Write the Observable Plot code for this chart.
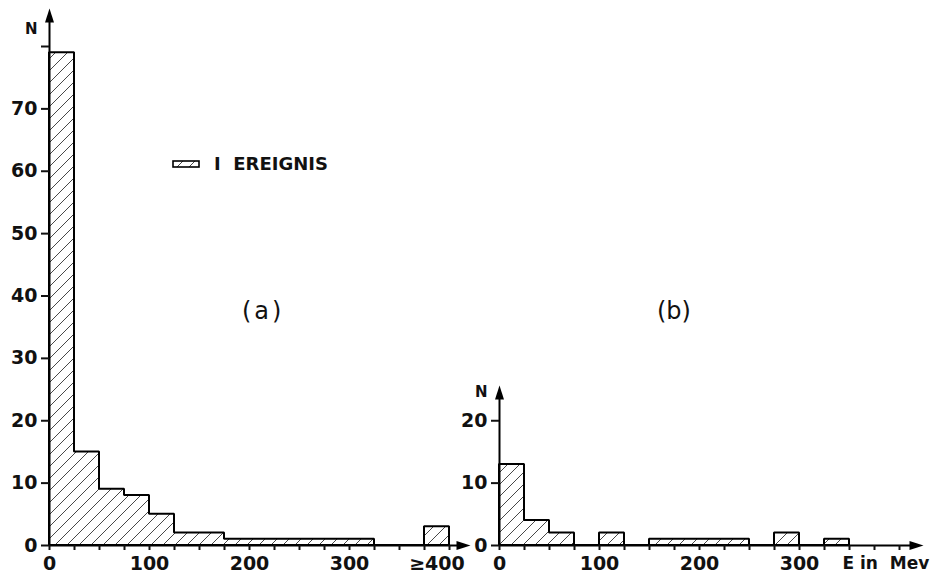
<!DOCTYPE html>
<html>
<head>
<meta charset="utf-8">
<script src="https://cdn.jsdelivr.net/npm/d3@7"></script>
<script src="https://cdn.jsdelivr.net/npm/@observablehq/plot@0.6"></script>
<style>
  body { margin: 0; background: #fff; }
  #wrap { position: relative; width: 934px; height: 576px; font-family: "DejaVu Sans", sans-serif; color: #111; }
  #wrap svg { position: absolute; left: 0; top: 0; overflow: visible; }
  .lbl { position: absolute; white-space: pre; line-height: 1; }
</style>
</head>
<body>
<div id="wrap"></div>
<script>
// ---------- data ----------
const binWidth = 25; // MeV
const leftBinStarts  = [0, 25, 50, 75, 100, 125, 150, 175, 200, 225, 250, 275, 300, 325, 350, 375];
const leftCounts     = [79, 15, 9, 8, 5, 2, 2, 1, 1, 1, 1, 1, 1, 0, 0, 3];
const rightBinStarts = [0, 25, 50, 75, 100, 125, 150, 175, 200, 225, 250, 275, 300, 325];
const rightCounts    = [13, 4, 2, 0, 2, 0, 1, 1, 1, 1, 0, 2, 0, 1];

const leftYTicks  = [0, 10, 20, 30, 40, 50, 60, 70, 80];
const leftYLabels = ["0", "10", "20", "30", "40", "50", "60", "70", ""];
const rightYTicks  = [0, 10, 20];
const rightYLabels = ["0", "10", "20"];
const xTicks      = d3.range(0, 401, 25);
const xTickValues = [0, 100, 200, 300];
const xTickLabels = ["0", "100", "200", "300"];
const overflowLabel = "\u2265400";
const unitLabel = "E\u00a0in\u00a0\u00a0Mev";
const legendText = "I\u00a0 EREIGNIS";
const panelLabels = ["(a)", "(b)"];
const yAxisLabel = "N";

// ---------- layout ----------
const H = 576, baseline = 545, pxPerN = 499 / 80;
const FONT = { fontFamily: "DejaVu Sans, sans-serif", fontSize: "19px", fontWeight: "bold", background: "transparent", overflow: "visible", color: "#111" };

const upArrow = { draw(ctx) { ctx.moveTo(0, 0); ctx.lineTo(4.5, 14); ctx.lineTo(-4.5, 14); ctx.closePath(); } };
const rightArrow = { draw(ctx) { ctx.moveTo(0, 0); ctx.lineTo(-14, -4.5); ctx.lineTo(-14, 4.5); ctx.closePath(); } };

function stepPoints(starts, counts) {
  const pts = starts.map((s, i) => ({ x: s, y: counts[i] }));
  pts.push({ x: starts[starts.length - 1] + binWidth, y: 0 });
  return pts;
}

function addHatch(svg, id) {
  const defs = d3.select(svg).insert("defs", ":first-child");
  const p = defs.append("pattern").attr("id", id)
    .attr("patternUnits", "userSpaceOnUse").attr("width", 12).attr("height", 12);
  p.append("path").attr("d", "M-3,3L3,-3M0,12L12,0M9,15L15,9")
    .attr("stroke", "#333").attr("stroke-width", 0.9).attr("fill", "none");
}

function histPlot({ width, marginLeft, marginRight, xMax, yMax, yTicks, yLabels, starts, counts, xArrow, yArrow, hatchId, extra }) {
  const marginTop = baseline - yMax * pxPerN;
  return Plot.plot({
    width, height: H,
    marginLeft, marginRight, marginTop, marginBottom: H - baseline,
    x: { domain: [0, xMax] },
    y: { domain: [0, yMax] },
    style: FONT,
    marks: [
      Plot.areaY(stepPoints(starts, counts), {
        x: "x", y: "y", curve: "step-after",
        fill: `url(#${hatchId})`, stroke: "black", strokeWidth: 2, strokeLinejoin: "miter"
      }),
      Plot.ruleX([0], { y1: 0, y2: yArrow - 1, stroke: "black", strokeWidth: 2 }),
      Plot.ruleY([0], { x1: 0, x2: xArrow - 4, stroke: "black", strokeWidth: 2 }),
      Plot.dot([0], { x: 0, y: yArrow, symbol: upArrow, fill: "black", stroke: "none", r: 5 }),
      Plot.dot([0], { x: xArrow, y: 0, symbol: rightArrow, fill: "black", stroke: "none", r: 5 }),
      Plot.axisY({
        ticks: yTicks, tickSize: 8, tickPadding: 4, strokeWidth: 2,
        tickFormat: d => yLabels[yTicks.indexOf(d)], label: null,
        fontSize: 19, fontWeight: "bold"
      }),
      Plot.axisX({
        ticks: xTicks, tickSize: 5, tickPadding: 6, strokeWidth: 2,
        tickFormat: d => { const i = xTickValues.indexOf(d); return i < 0 ? "" : xTickLabels[i]; },
        label: null, fontSize: 19, fontWeight: "bold"
      }),
      ...extra
    ]
  });
}

const wrap = document.getElementById("wrap");

// left panel (a)
const left = histPlot({
  width: 480, marginLeft: 49, marginRight: 0, xMax: 431, yMax: 80,
  yTicks: leftYTicks, yLabels: leftYLabels,
  starts: leftBinStarts, counts: leftCounts,
  xArrow: 421, yArrow: (baseline - 8) / pxPerN, hatchId: "hatchL",
  extra: [
    Plot.axisX({
      ticks: [leftBinStarts[leftBinStarts.length - 1] + binWidth / 2], tickSize: 0, tickPadding: 11,
      tickFormat: () => overflowLabel, label: null, fontSize: 19, fontWeight: "bold"
    })
  ]
});
addHatch(left, "hatchL");
wrap.appendChild(left);

// right panel (b)
const right = histPlot({
  width: 934, marginLeft: 499, marginRight: 11, xMax: 424, yMax: 20,
  yTicks: rightYTicks, yLabels: rightYLabels,
  starts: rightBinStarts, counts: rightCounts,
  xArrow: 424, yArrow: (baseline - 385) / pxPerN, hatchId: "hatchR",
  extra: [
    Plot.text([unitLabel], {
      x: 350, frameAnchor: "bottom", lineAnchor: "top", textAnchor: "start",
      dx: -7, dy: 11, fontSize: 17, fontWeight: "bold", fill: "#111"
    })
  ]
});
addHatch(right, "hatchR");
wrap.appendChild(right);

// annotations (HTML overlays)
function label(text, css) {
  const d = document.createElement("div");
  d.className = "lbl"; d.textContent = text;
  Object.assign(d.style, css);
  wrap.appendChild(d);
  return d;
}
label(yAxisLabel, { left: "25px", top: "22px", fontSize: "15px", fontWeight: "bold" });
label(yAxisLabel, { left: "475px", top: "385px", fontSize: "15px", fontWeight: "bold" });
label(panelLabels[0], { left: "242px", top: "299px", fontSize: "24px", letterSpacing: "3px" });
label(panelLabels[1], { left: "657px", top: "299px", fontSize: "24px" });

// legend
const leg = document.createElement("div");
leg.className = "lbl";
Object.assign(leg.style, { left: "172px", top: "155px", fontSize: "18px", fontWeight: "bold", display: "flex", alignItems: "center" });
leg.innerHTML = `<svg width="28" height="8" style="position:static;overflow:visible;margin-right:14px">
  <rect x="1" y="1" width="26" height="6" fill="url(#hatchL)" stroke="black" stroke-width="1.6"></rect></svg><span>${legendText}</span>`;
wrap.appendChild(leg);
</script>
</body>
</html>
